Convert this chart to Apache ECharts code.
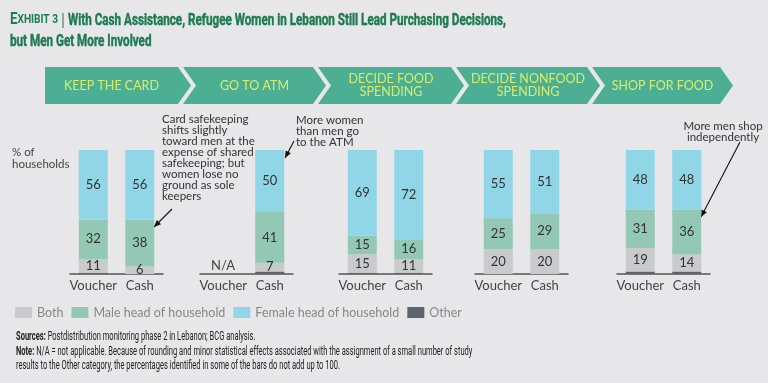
<!DOCTYPE html>
<html><head><meta charset="utf-8">
<script src="https://cdn.jsdelivr.net/npm/echarts@6/dist/echarts.min.js"></script>
<style>html,body{margin:0;padding:0;background:#e7e7e9;}#c{width:768px;height:383px;}</style>
</head><body><div id="c"></div>
<script>
const stages = ['KEEP THE CARD', 'GO TO ATM', 'DECIDE FOOD\nSPENDING', 'DECIDE NONFOOD\nSPENDING', 'SHOP FOR FOOD'];
const groups = ['Voucher', 'Cash'];
const otherVals  = [[1, 0], [null, 2], [1, 1], [0, 0], [2, 2]];
const bothVals   = [[11, 6], [null, 7], [15, 11], [20, 20], [19, 14]];
const maleVals   = [[32, 38], [null, 41], [15, 16], [25, 29], [31, 36]];
const femaleVals = [[56, 56], [null, 50], [69, 72], [55, 51], [48, 48]];
const seriesNames = ['Both', 'Male head of household', 'Female head of household', 'Other'];

const colors = {Both: '#c9cacc', 'Male head of household': '#93c8b5', 'Female head of household': '#90d6e6', Other: '#5e646b'};
const gridLefts = [70, 200, 339, 475, 617];
const gridW = 93;
const chart = echarts.init(document.getElementById('c'));

const ctx = document.createElement('canvas').getContext('2d');
function fitScale(text, font, target) { ctx.font = font; return target / ctx.measureText(text).width; }

const grids = [], xAxes = [], yAxes = [], series = [];
gridLefts.forEach((l, i) => {
  grids.push({left: l, width: gridW, top: 150, height: 124});
  xAxes.push({type: 'category', gridIndex: i, data: groups,
    axisLine: {lineStyle: {color: '#555', width: 1.5}}, axisTick: {show: false},
    axisLabel: {color: '#444', fontSize: 13, fontFamily: 'Lato', margin: 5, interval: 0}});
  yAxes.push({type: 'value', gridIndex: i, min: 0, max: 100, show: false, splitLine: {show: false}});
  const lab = {show: true, position: 'inside', color: '#333', fontSize: 13, fontFamily: 'Lato'};
  const add = (name, vals, label) => series.push({name, type: 'bar', stack: 's' + i, xAxisIndex: i, yAxisIndex: i,
    barWidth: 29, data: vals[i], itemStyle: {color: colors[name]}, label: label ? lab : {show: false}, animation: false});
  add('Other', otherVals, false);
  add('Both', bothVals, true);
  add('Male head of household', maleVals, true);
  add('Female head of household', femaleVals, true);
});

// chevrons
const chev = [[45, 178], [183, 313], [318, 451], [456, 587], [592, 720]];
const graphics = [];
chev.forEach(([xl, xr], i) => {
  const d = 13, t = 67, b = 104, m = (t + b) / 2;
  const pts = i === 0 ? [[xl, t], [xr, t], [xr + d, m], [xr, b], [xl, b]]
                      : [[xl, t], [xr, t], [xr + d, m], [xr, b], [xl, b], [xl + d, m]];
  graphics.push({type: 'polygon', shape: {points: pts}, style: {fill: '#4caf94'}, silent: true});
  const cx = i === 0 ? (xl + xr) / 2 : (xl + d + xr) / 2;
  graphics.push({type: 'text', x: cx, y: m, style: {text: stages[i], fill: '#d8ec6c', font: '12.5px Lato',
    textAlign: 'center', textVerticalAlign: 'middle', lineHeight: 13}});
});

// title
const green = '#1e7b52';
const tFont = 'bold 17px Roboto';
const t1 = 'With Cash Assistance, Refugee Women in Lebanon Still Lead Purchasing Decisions,';
const t2 = 'but Men Get More Involved';
const ts = fitScale(t1, tFont, 438);
ctx.font = 'bold 17px Roboto'; const wE = ctx.measureText('E').width;
ctx.font = 'bold 13px Roboto'; const wX = ctx.measureText('XHIBIT 3').width;
const tStroke = {stroke: green, lineWidth: 0.5};
graphics.push({type: 'text', x: 10, y: 20, scaleX: 48 / (wE + wX),
  style: {rich: {e: {fontSize: 17, fontWeight: 'bold', fill: green, fontFamily: 'Roboto', textStroke: green, textStrokeWidth: 0.5}, s: {fontSize: 13, fontWeight: 'bold', fill: green, fontFamily: 'Roboto', textStroke: green, textStrokeWidth: 0.5}},
  text: '{e|E}{s|XHIBIT 3}', textVerticalAlign: 'middle'}});
graphics.push({type: 'line', shape: {x1: 63, y1: 13, x2: 63, y2: 28}, style: {stroke: green, lineWidth: 1}});
graphics.push({type: 'text', x: 68, y: 21, scaleX: ts, style: Object.assign({text: t1, font: tFont, fill: green, textVerticalAlign: 'middle'}, tStroke)});
graphics.push({type: 'text', x: 10, y: 42, scaleX: ts, style: Object.assign({text: t2, font: tFont, fill: green, textVerticalAlign: 'middle'}, tStroke)});

// y label
graphics.push({type: 'text', x: 12, y: 146, style: {text: '% of\nhouseholds', fill: '#444', font: '11.5px Lato', lineHeight: 12}});

// N/A
graphics.push({type: 'text', x: 223, y: 266, style: {text: 'N/A', fill: '#444', font: '13px Lato', textAlign: 'center', textVerticalAlign: 'middle'}});

// annotations
const noteFont = '11.5px Lato';
graphics.push({type: 'text', x: 162, y: 114, style: {text: 'Card safekeeping\nshifts slightly\ntoward men at the\nexpense of shared\nsafekeeping; but\nwomen lose no\nground as sole\nkeepers', fill: '#333', font: noteFont, lineHeight: 11}});
graphics.push({type: 'text', x: 296, y: 115, style: {text: 'More women\nthan men go\nto the ATM', fill: '#333', font: noteFont, lineHeight: 11}});
graphics.push({type: 'text', x: 723, y: 121, style: {text: 'More men shop\nindependently', fill: '#333', font: noteFont, lineHeight: 11, textAlign: 'center'}});
function arrow(x1, y1, x2, y2) {
  graphics.push({type: 'line', shape: {x1, y1, x2, y2}, style: {stroke: '#111', lineWidth: 1.1}});
  const a = Math.atan2(y2 - y1, x2 - x1), L = 7, W = 3;
  const bx = x2 - L * Math.cos(a), by = y2 - L * Math.sin(a);
  graphics.push({type: 'polygon', shape: {points: [[x2, y2], [bx + W * Math.sin(a), by - W * Math.cos(a)], [bx - W * Math.sin(a), by + W * Math.cos(a)]]}, style: {fill: '#111'}});
}
arrow(172, 209, 154, 227);
arrow(294, 141, 285, 158);
arrow(740, 142, 701, 217);

// footnote
const fFont = '12.5px Roboto';
const fl2 = 'Note: N/A = not applicable. Because of rounding and minor statistical effects associated with the assignment of a small number of study';
const fs = fitScale(fl2, fFont, 456);
const rich = {b: {fontWeight: 'bold', fontSize: 12.5, fill: '#222', fontFamily: 'Roboto'}, n: {fontSize: 12.5, fill: '#222', fontFamily: 'Roboto', textStroke: '#222', textStrokeWidth: 0.25}};
const flines = ['{b|Sources:}{n| Postdistribution monitoring phase 2 in Lebanon; BCG analysis.}',
  '{b|Note:}{n| N/A = not applicable. Because of rounding and minor statistical effects associated with the assignment of a small number of study}',
  '{n|results to the Other category, the percentages identified in some of the bars do not add up to 100.}'];
const fy = [337, 352, 366];
flines.forEach((t, k) => graphics.push({type: 'text', x: 16, y: fy[k], scaleX: fs, style: {rich, text: t, textVerticalAlign: 'middle'}}));

chart.setOption({
  backgroundColor: '#e7e7e9',
  animation: false,
  grid: grids, xAxis: xAxes, yAxis: yAxes, series,
  legend: {data: seriesNames, left: 15, top: 306, padding: 0, icon: 'rect', itemWidth: 17, itemHeight: 11, itemGap: 8,
    textStyle: {color: '#888', fontSize: 12.5, fontFamily: 'Lato'}, selectedMode: false},
  graphic: graphics
});
</script></body></html>
